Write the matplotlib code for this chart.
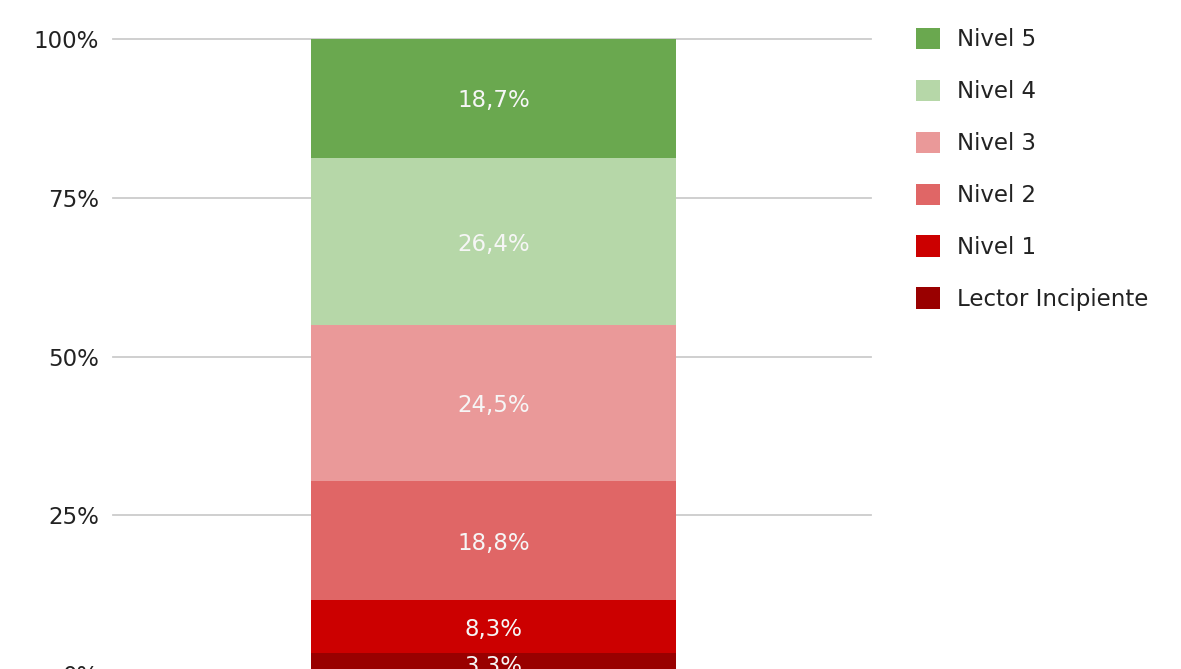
import matplotlib
matplotlib.use("Agg")
import matplotlib.pyplot as plt
from matplotlib.patches import Patch
from matplotlib.ticker import FixedLocator

categories = ["Lector Incipiente", "Nivel 1", "Nivel 2", "Nivel 3", "Nivel 4", "Nivel 5"]
values = [3.3, 8.3, 18.8, 24.5, 26.4, 18.7]
colors = ["#990000", "#cc0000", "#e06666", "#ea9999", "#b6d7a8", "#6aa84f"]
yticks = [0, 25, 50, 75, 100]
ytick_labels = ["0%", "25%", "50%", "75%", "100%"]

plt.rcParams['font.family'] = ['DejaVu Sans']
W, H = 1181, 669
fig = plt.figure(figsize=(W / 100, H / 100), dpi=100)
ax = fig.add_axes([113 / W, -5 / H, 758 / W, 635 / H])

fs = 16.5
xpos = 0.002
bottom = 0.0
for cat, v, c in zip(categories, values, colors):
    ax.bar(xpos, v, width=0.482, bottom=bottom, color=c, zorder=3, label=cat)
    ax.text(xpos, bottom + v / 2, f"{v:.1f}%".replace(".", ","), ha="center", va="center_baseline",
            color="#f6f6f6", fontsize=fs, zorder=4)
    bottom += v

ax.set_xlim(-0.5, 0.5)
ax.set_ylim(0, 100)
ax.yaxis.set_major_locator(FixedLocator(yticks))
ax.set_yticklabels(ytick_labels, fontsize=fs, color="#222222")
ax.tick_params(axis="y", length=0, pad=10)
ax.set_xticks([])
ax.grid(axis="y", color="#cccccc", linewidth=1.3, zorder=0)
for gl in ax.get_ygridlines():
    gl.set_clip_on(False)
for s in ax.spines.values():
    s.set_visible(False)

handles = [Patch(facecolor=c, edgecolor="none", label=cat) for cat, c in zip(categories, colors)][::-1]
fig.legend(handles=handles, loc="upper left", bbox_to_anchor=(916 / W, 1 - 28 / H),
           frameon=False, fontsize=fs, handlelength=1.05, handleheight=1.05,
           handletextpad=0.72, labelspacing=1.24, borderpad=0, borderaxespad=0,
           labelcolor="#222222")

fig.savefig("out.png", dpi=100)
